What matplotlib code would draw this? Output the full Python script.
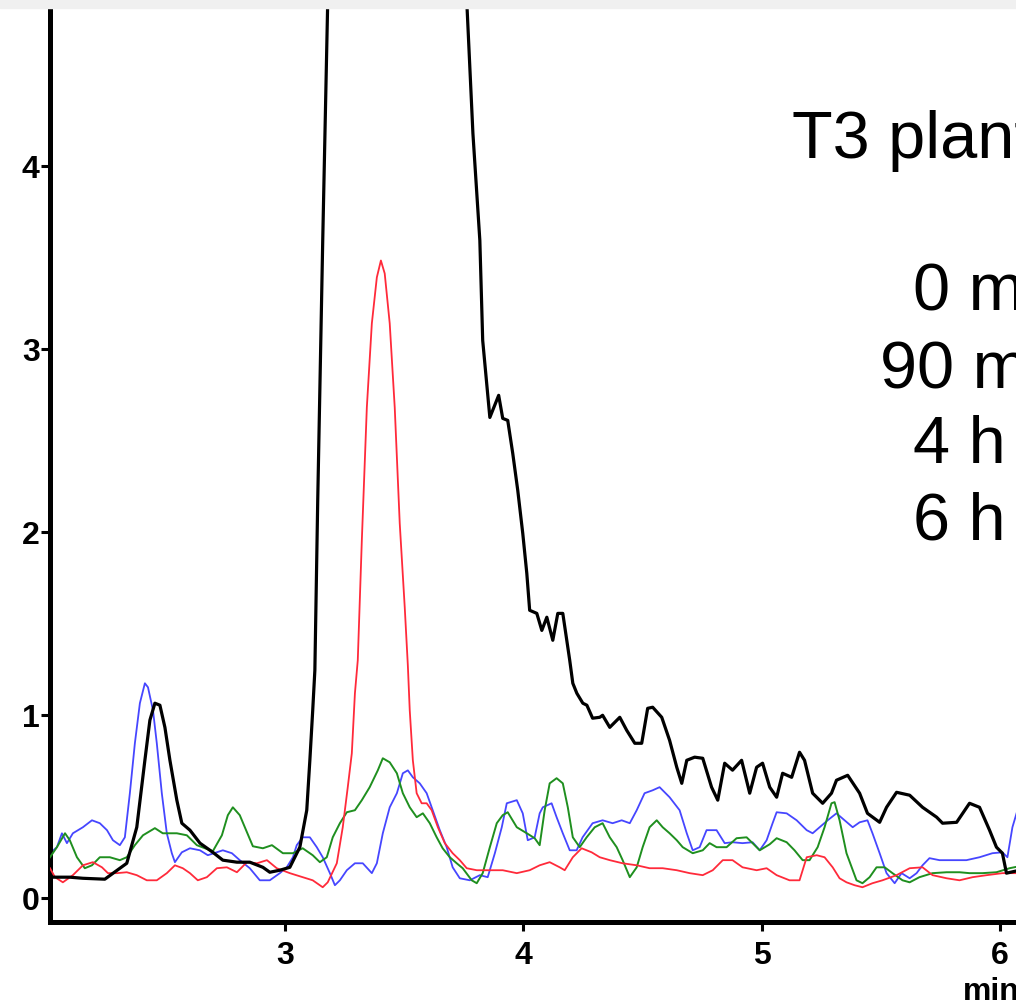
import matplotlib
matplotlib.use("Agg")
import matplotlib.pyplot as plt
from matplotlib.patches import Rectangle

# Chromatogram traces (time in min, absorbance)
black_t = [2.015, 2.098, 2.153, 2.245, 2.337, 2.379, 2.413, 2.434, 2.455, 2.476,
           2.497, 2.518, 2.547, 2.568, 2.602, 2.644, 2.698, 2.740, 2.799, 2.853,
           2.908, 2.937, 2.979, 3.021, 3.063, 3.092, 3.105, 3.117, 3.126, 3.138,
           3.159, 3.180, 3.200, 3.450, 3.740, 3.763, 3.789, 3.818, 3.830, 3.860,
           3.897, 3.914, 3.935, 3.956, 3.977, 3.998, 4.015, 4.027, 4.057, 4.078,
           4.099, 4.124, 4.145, 4.166, 4.195, 4.208, 4.225, 4.250, 4.267, 4.291,
           4.321, 4.333, 4.363, 4.405, 4.434, 4.468, 4.497, 4.522, 4.543, 4.581,
           4.614, 4.644, 4.665, 4.686, 4.719, 4.753, 4.790, 4.816, 4.845, 4.878,
           4.916, 4.950, 4.979, 5.004, 5.034, 5.063, 5.088, 5.126, 5.159, 5.180,
           5.214, 5.256, 5.293, 5.314, 5.361, 5.411, 5.444, 5.495, 5.524, 5.566,
           5.621, 5.675, 5.734, 5.759, 5.818, 5.872, 5.914, 5.956, 5.985, 6.010,
           6.027, 6.082]
black_a = [0.115, 0.115, 0.109, 0.104, 0.191, 0.388, 0.754, 0.973, 1.066, 1.055,
           0.934, 0.754, 0.536, 0.410, 0.372, 0.301, 0.251, 0.208, 0.197, 0.197,
           0.169, 0.142, 0.153, 0.169, 0.279, 0.481, 0.754, 1.027, 1.246, 2.175,
           3.596, 4.907, 6.200, 9.000, 5.600, 4.907, 4.180, 3.596, 3.049, 2.628,
           2.749, 2.623, 2.612, 2.432, 2.230, 1.995, 1.776, 1.574, 1.557, 1.464,
           1.536, 1.410, 1.557, 1.557, 1.301, 1.175, 1.120, 1.066, 1.055, 0.984,
           0.989, 1.000, 0.934, 0.989, 0.918, 0.847, 0.847, 1.038, 1.044, 0.989,
           0.863, 0.716, 0.628, 0.754, 0.771, 0.765, 0.607, 0.536, 0.738, 0.700,
           0.754, 0.574, 0.716, 0.738, 0.607, 0.552, 0.683, 0.661, 0.798, 0.754,
           0.574, 0.519, 0.574, 0.645, 0.672, 0.574, 0.464, 0.415, 0.497, 0.579,
           0.563, 0.497, 0.443, 0.410, 0.415, 0.519, 0.497, 0.372, 0.279, 0.246,
           0.137, 0.153]

red_t = [2.015, 2.036, 2.069, 2.111, 2.153, 2.195, 2.233, 2.258, 2.296, 2.337,
         2.379, 2.421, 2.463, 2.505, 2.539, 2.572, 2.602, 2.635, 2.673, 2.715,
         2.757, 2.799, 2.841, 2.883, 2.925, 2.966, 3.021, 3.075, 3.117, 3.159,
         3.180, 3.218, 3.243, 3.264, 3.281, 3.294, 3.306, 3.323, 3.344, 3.365,
         3.386, 3.403, 3.419, 3.440, 3.461, 3.482, 3.503, 3.516, 3.524, 3.537,
         3.553, 3.574, 3.595, 3.616, 3.642, 3.671, 3.704, 3.734, 3.763, 3.805,
         3.860, 3.914, 3.973, 4.027, 4.069, 4.111, 4.153, 4.174, 4.208, 4.245,
         4.287, 4.321, 4.363, 4.417, 4.476, 4.530, 4.585, 4.644, 4.698, 4.753,
         4.795, 4.837, 4.878, 4.920, 4.979, 5.021, 5.063, 5.117, 5.159, 5.189,
         5.231, 5.264, 5.298, 5.327, 5.356, 5.390, 5.423, 5.465, 5.507, 5.566,
         5.621, 5.675, 5.717, 5.776, 5.830, 5.885, 5.944, 6.010, 6.082]
red_a = [0.164, 0.115, 0.087, 0.126, 0.180, 0.197, 0.169, 0.137, 0.137, 0.142,
         0.126, 0.098, 0.098, 0.137, 0.180, 0.164, 0.137, 0.098, 0.115, 0.164,
         0.169, 0.142, 0.197, 0.191, 0.208, 0.164, 0.137, 0.115, 0.098, 0.060,
         0.087, 0.191, 0.388, 0.607, 0.792, 1.120, 1.301, 1.956, 2.683, 3.142,
         3.394, 3.486, 3.415, 3.142, 2.683, 2.049, 1.590, 1.273, 1.027, 0.754,
         0.574, 0.519, 0.519, 0.481, 0.388, 0.301, 0.246, 0.208, 0.164, 0.153,
         0.153, 0.153, 0.137, 0.153, 0.180, 0.197, 0.169, 0.153, 0.224, 0.273,
         0.251, 0.224, 0.208, 0.191, 0.180, 0.164, 0.164, 0.153, 0.137, 0.126,
         0.153, 0.208, 0.208, 0.169, 0.153, 0.164, 0.126, 0.098, 0.098, 0.224,
         0.235, 0.224, 0.169, 0.109, 0.087, 0.071, 0.060, 0.082, 0.098, 0.126,
         0.164, 0.169, 0.126, 0.109, 0.098, 0.115, 0.126, 0.137, 0.137]

blue_t = [2.015, 2.044, 2.065, 2.086, 2.111, 2.153, 2.191, 2.224, 2.254, 2.279,
          2.308, 2.329, 2.350, 2.371, 2.392, 2.413, 2.426, 2.447, 2.463, 2.484,
          2.505, 2.526, 2.539, 2.568, 2.602, 2.644, 2.677, 2.715, 2.740, 2.778,
          2.811, 2.853, 2.895, 2.937, 2.979, 3.008, 3.034, 3.050, 3.075, 3.105,
          3.134, 3.159, 3.189, 3.210, 3.231, 3.260, 3.294, 3.327, 3.365, 3.386,
          3.411, 3.440, 3.470, 3.495, 3.516, 3.537, 3.566, 3.595, 3.616, 3.650,
          3.679, 3.704, 3.734, 3.776, 3.818, 3.851, 3.881, 3.910, 3.931, 3.973,
          3.998, 4.019, 4.048, 4.069, 4.082, 4.119, 4.140, 4.166, 4.195, 4.224,
          4.249, 4.291, 4.333, 4.375, 4.413, 4.447, 4.476, 4.509, 4.543, 4.572,
          4.614, 4.656, 4.686, 4.711, 4.740, 4.769, 4.811, 4.845, 4.878, 4.920,
          4.962, 4.992, 5.021, 5.046, 5.063, 5.105, 5.147, 5.189, 5.214, 5.243,
          5.277, 5.314, 5.348, 5.382, 5.411, 5.444, 5.465, 5.495, 5.524, 5.558,
          5.587, 5.621, 5.650, 5.675, 5.704, 5.746, 5.801, 5.859, 5.914, 5.968,
          6.010, 6.031, 6.052, 6.069, 6.103]
blue_a = [0.246, 0.279, 0.355, 0.301, 0.355, 0.388, 0.426, 0.410, 0.372, 0.317,
          0.290, 0.333, 0.574, 0.847, 1.066, 1.175, 1.153, 1.027, 0.847, 0.574,
          0.355, 0.246, 0.197, 0.251, 0.273, 0.262, 0.235, 0.251, 0.262, 0.246,
          0.208, 0.164, 0.098, 0.098, 0.137, 0.169, 0.224, 0.290, 0.333, 0.333,
          0.279, 0.224, 0.137, 0.071, 0.098, 0.153, 0.191, 0.191, 0.137, 0.191,
          0.355, 0.497, 0.574, 0.683, 0.699, 0.661, 0.628, 0.574, 0.497, 0.372,
          0.279, 0.169, 0.109, 0.098, 0.126, 0.115, 0.246, 0.388, 0.519, 0.536,
          0.464, 0.317, 0.333, 0.464, 0.497, 0.519, 0.443, 0.355, 0.262, 0.262,
          0.333, 0.410, 0.426, 0.410, 0.426, 0.410, 0.481, 0.574, 0.590, 0.607,
          0.552, 0.481, 0.355, 0.262, 0.279, 0.372, 0.372, 0.301, 0.306, 0.301,
          0.306, 0.262, 0.317, 0.410, 0.470, 0.464, 0.426, 0.372, 0.355, 0.388,
          0.426, 0.464, 0.426, 0.388, 0.415, 0.426, 0.355, 0.246, 0.137, 0.082,
          0.137, 0.109, 0.137, 0.180, 0.219, 0.208, 0.208, 0.208, 0.224, 0.246,
          0.251, 0.224, 0.388, 0.464, 0.590]

green_t = [2.015, 2.044, 2.078, 2.098, 2.128, 2.161, 2.191, 2.224, 2.266, 2.308,
           2.337, 2.371, 2.405, 2.455, 2.488, 2.547, 2.589, 2.631, 2.665, 2.698,
           2.736, 2.761, 2.782, 2.811, 2.841, 2.866, 2.908, 2.946, 2.992, 3.034,
           3.075, 3.117, 3.147, 3.176, 3.201, 3.231, 3.260, 3.294, 3.323, 3.356,
           3.390, 3.411, 3.440, 3.470, 3.495, 3.524, 3.553, 3.579, 3.608, 3.637,
           3.662, 3.692, 3.721, 3.746, 3.784, 3.805, 3.830, 3.860, 3.889, 3.914,
           3.935, 3.973, 4.015, 4.048, 4.069, 4.090, 4.111, 4.140, 4.166, 4.187,
           4.208, 4.237, 4.266, 4.300, 4.333, 4.363, 4.392, 4.417, 4.447, 4.476,
           4.501, 4.530, 4.560, 4.585, 4.614, 4.644, 4.669, 4.711, 4.753, 4.782,
           4.811, 4.853, 4.895, 4.937, 4.962, 4.992, 5.034, 5.063, 5.105, 5.138,
           5.172, 5.201, 5.235, 5.264, 5.293, 5.306, 5.327, 5.356, 5.398, 5.423,
           5.453, 5.482, 5.516, 5.549, 5.591, 5.621, 5.662, 5.717, 5.776, 5.830,
           5.872, 5.926, 5.985, 6.040, 6.082]
green_a = [0.224, 0.279, 0.355, 0.317, 0.224, 0.164, 0.180, 0.224, 0.224, 0.208,
           0.224, 0.290, 0.344, 0.383, 0.355, 0.355, 0.344, 0.290, 0.273, 0.257,
           0.344, 0.454, 0.497, 0.454, 0.361, 0.284, 0.273, 0.290, 0.246, 0.246,
           0.273, 0.235, 0.197, 0.224, 0.333, 0.410, 0.470, 0.481, 0.536, 0.607,
           0.699, 0.765, 0.743, 0.683, 0.574, 0.497, 0.443, 0.464, 0.410, 0.333,
           0.273, 0.224, 0.191, 0.164, 0.098, 0.082, 0.137, 0.279, 0.410, 0.454,
           0.470, 0.388, 0.355, 0.328, 0.290, 0.481, 0.628, 0.656, 0.628, 0.497,
           0.333, 0.279, 0.333, 0.388, 0.410, 0.333, 0.279, 0.208, 0.115, 0.169,
           0.279, 0.388, 0.426, 0.388, 0.355, 0.317, 0.279, 0.246, 0.262, 0.301,
           0.279, 0.279, 0.328, 0.333, 0.301, 0.262, 0.295, 0.328, 0.306, 0.262,
           0.208, 0.208, 0.279, 0.388, 0.519, 0.525, 0.426, 0.246, 0.098, 0.082,
           0.115, 0.169, 0.169, 0.137, 0.098, 0.087, 0.115, 0.137, 0.142, 0.142,
           0.137, 0.137, 0.142, 0.164, 0.175]

title = "T3 plants"
labels = ["0 min", "90 min", "4 h", "6 h"]
x_ticks = [3, 4, 5, 6]
y_ticks = [0, 1, 2, 3, 4]

plt.rcParams['font.family'] = ['Liberation Sans', 'DejaVu Sans']

W, H = 1016, 1007
fig = plt.figure(figsize=(W / 100, H / 100), dpi=100)
ax = fig.add_axes([50 / W, (H - 922) / H, 966 / W, 922 / H])

ax.plot(blue_t, blue_a, color='#4646ff', lw=1.3, zorder=2)
ax.plot(green_t, green_a, color='#1f8f1f', lw=1.4, zorder=3)
ax.plot(red_t, red_a, color='#ff2a3a', lw=1.3, zorder=4)
ax.plot(black_t, black_a, color='black', lw=2.3, zorder=5)

ax.set_xlim(2.015, 6.067)
ax.set_ylim(-0.13, 4.91)

for s in ['top', 'right']:
    ax.spines[s].set_visible(False)
for s in ['left', 'bottom']:
    ax.spines[s].set_linewidth(3.6)

ax.set_xticks(x_ticks)
ax.set_yticks(y_ticks)
ax.tick_params(direction='out', length=6.5, width=2.2, labelsize=23)
ax.tick_params(axis='x', pad=7)
ax.tick_params(axis='y', pad=1)
for lab in ax.get_xticklabels() + ax.get_yticklabels():
    lab.set_fontweight('bold')

fig.text(963 / W, 1 - 1000 / H, "min", fontsize=23, fontweight='bold',
         ha='left', va='baseline')

# title and legend text (cut off at the right edge in the source)
fig.text(792 / W, 1 - 158 / H, title, fontsize=48, ha='left', va='baseline')
label_x = [913, 880, 913, 913]
label_y = [310, 387, 463, 540]
for lx, ly, lab in zip(label_x, label_y, labels):
    fig.text(lx / W, 1 - ly / H, lab, fontsize=48, ha='left', va='baseline')

# light grey band along the top edge
fig.patches.append(Rectangle((0, 1 - 8 / H), 1, 8 / H, transform=fig.transFigure,
                             color='#f0f0f0', zorder=10))

fig.savefig("out.png", dpi=100)
